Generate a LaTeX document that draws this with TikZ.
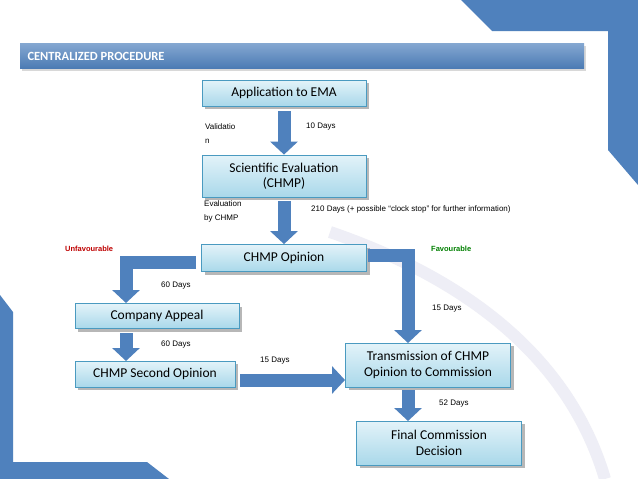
\documentclass[tikz,border=0pt]{standalone}
\usepackage{fontspec}
\setmainfont{Carlito}
\newfontfamily\arialf{Liberation Sans}
\usetikzlibrary{arrows.meta,shadows}
\definecolor{bblue}{HTML}{4F81BD}
\definecolor{bord}{HTML}{4A9AC0}
\definecolor{btop}{HTML}{E3F3F9}
\definecolor{bbot}{HTML}{A9D8EA}
\begin{document}
\begin{tikzpicture}[x=1pt,y=-1pt,
 box/.style={draw=bord,line width=0.8pt,top color=btop,bottom color=bbot,
   drop shadow={shadow xshift=3pt,shadow yshift=-3pt,fill=gray!70,opacity=0.8},
   font=\fontsize{13.5}{15.5}\selectfont,align=center,inner sep=0pt},
 blk/.style={draw=bblue,line width=13pt,-{Triangle[width=27pt,length=13pt,fill=bblue]}},
 lab/.style={font=\arialf\fontsize{8}{14}\selectfont,align=left,anchor=west,inner sep=0pt}]
\useasboundingbox (0,0) rectangle (638,479);
\fill[white] (0,0) rectangle (638,479);
% decorations
\draw[blue!30!gray!10,line width=12pt] (330,232) .. controls (470,280) and (570,360) .. (605,479);
\fill[bblue] (461,0) -- (638,0) -- (638,185) -- (608,150) -- (608,31) -- (492,31) -- cycle;
\fill[bblue] (0,295) -- (13,312) -- (13,462) -- (147,462) -- (169,479) -- (0,479) -- cycle;
% title bar
\node[draw=none,minimum width=564pt,minimum height=25pt,inner sep=0pt,
  top color=bblue!70,bottom color=bblue!95!black,
  drop shadow={shadow xshift=2pt,shadow yshift=-2pt,fill=gray!60}] (title) at (302,56) {};
\node[anchor=west,text=white,font=\bfseries\fontsize{12.5}{14}\selectfont] (tt) at (24,56) {CENTRALIZED PROCEDURE};
% boxes
\node[box,minimum width=164pt,minimum height=26pt] (app) at (284,93) {Application to EMA};
\node[box,minimum width=164pt,minimum height=42pt] (sci) at (284,176) {Scientific Evaluation\\(CHMP)};
\node[box,minimum width=165pt,minimum height=27pt] (op) at (284,258) {CHMP Opinion};
\node[box,minimum width=164pt,minimum height=25pt] (ca) at (157,316) {Company Appeal};
\node[box,minimum width=160pt,minimum height=26pt] (so) at (155,374) {CHMP Second Opinion};
\node[box,minimum width=165pt,minimum height=44pt] (tr) at (428,365) {Transmission of CHMP\\Opinion to Commission};
\node[box,minimum width=165pt,minimum height=44pt] (fd) at (439,443) {Final Commission\\Decision};
% arrows
\draw[blk] (284,111) -- (sci.north);
\draw[blk] (284,201) -- (op.north);
\draw[blk] (196,262) -- (126,262) -- (126,303);
\draw[blk] (368,255) -- (408,255) -- (408,343);
\draw[blk] (126,333) -- (126,361);
\draw[blk] (240,380) -- (345,380);
\draw[blk] (408,390) -- (408,421);
% labels
\node[lab] (l1) at (205,134) {Validatio\\n};
\node[lab] (l2) at (306,127) {10 Days};
\node[lab] (l3) at (204,211) {Evaluation\\by CHMP};
\node[lab] (l4) at (311,209) {210 Days (+ possible “clock stop” for further information)};
\node[lab,text=red!75!black,font=\arialf\bfseries\fontsize{7.5}{10}\selectfont] (u) at (65,249) {Unfavourable};
\node[lab,text=green!50!black,font=\arialf\bfseries\fontsize{7.5}{10}\selectfont] (f) at (431,249) {Favourable};
\node[lab] (d1) at (161,286) {60 Days};
\node[lab] (d2) at (161,345) {60 Days};
\node[lab] (d3) at (260,361) {15 Days};
\node[lab] (d4) at (432,309) {15 Days};
\node[lab] (d5) at (439,404) {52 Days};
\end{tikzpicture}
\end{document}
